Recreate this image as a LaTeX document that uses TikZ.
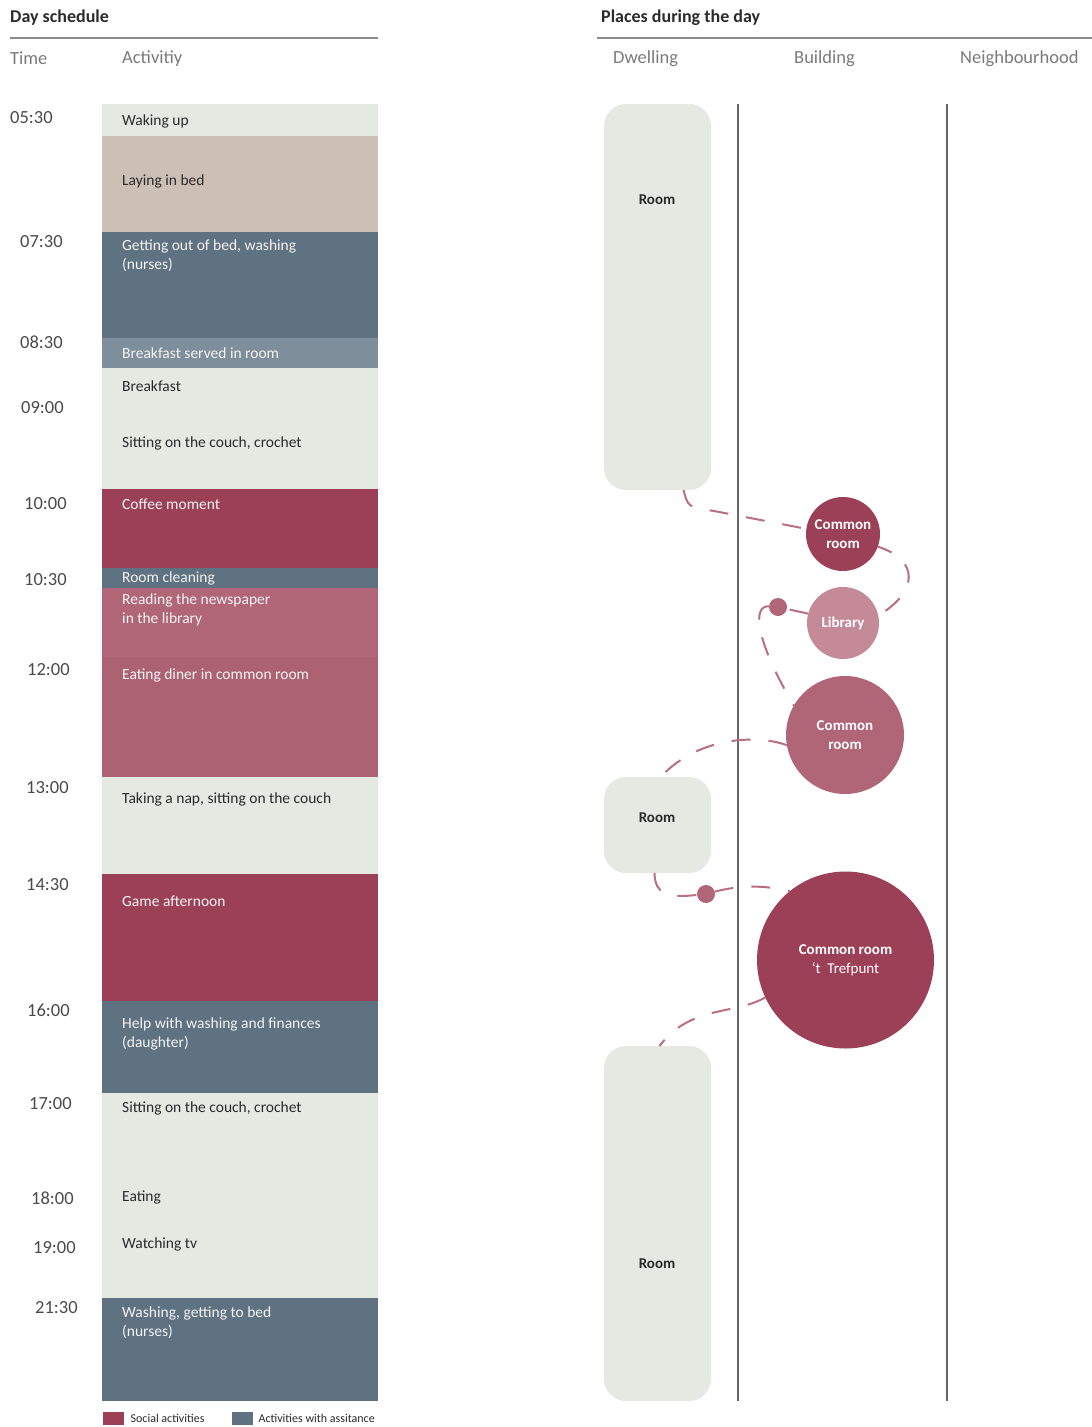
\documentclass[tikz,border=0pt]{standalone}
\usepackage{fontspec}
\setmainfont{Carlito}
\usetikzlibrary{positioning}
\definecolor{pale}{HTML}{E6E8E2}
\definecolor{sand}{HTML}{CBBFB6}
\definecolor{slate}{HTML}{5F7282}
\definecolor{mist}{HTML}{7F8E9B}
\definecolor{crimson}{HTML}{9C4057}
\definecolor{rose}{HTML}{B06677}
\definecolor{dusk}{HTML}{AD6273}
\definecolor{blush}{HTML}{C48A97}
\definecolor{routecol}{HTML}{B86F80}
\definecolor{ink}{HTML}{2B2B2B}
\definecolor{light}{HTML}{F4F4F4}
\definecolor{rulegray}{HTML}{8C8C8C}
\definecolor{colgray}{HTML}{7A7A7A}
\definecolor{hourgray}{HTML}{4A4A4A}
\definecolor{zonegray}{HTML}{666666}
\begin{document}
\begin{tikzpicture}[x=1pt,y=-1pt,
    act/.style={anchor=west,inner sep=0pt,yshift=-1.5pt,align=left,font=\fontsize{15.5}{19}\selectfont},
    hour/.style={anchor=west,inner sep=0pt,yshift=-1.5pt,text=hourgray,font=\fontsize{18.5}{22}\selectfont},
    colhead/.style={anchor=west,inner sep=0pt,yshift=-1.5pt,text=colgray,font=\fontsize{18.5}{22}\selectfont},
    title/.style={anchor=west,inner sep=0pt,yshift=-2pt,text=ink,font=\bfseries\fontsize{18}{22}\selectfont},
    roombox/.style={fill=pale,rounded corners=22pt,minimum width=107pt,inner sep=0pt,outer sep=0pt,anchor=north},
    roomname/.style={text=ink,yshift=-1pt,font=\bfseries\fontsize{15}{18}\selectfont},
    place/.style={circle,inner sep=0pt,outer sep=0pt,text=white,align=center,font=\bfseries\fontsize{15}{19}\selectfont},
    waypoint/.style={circle,fill=rose,minimum size=18pt,inner sep=0pt,outer sep=0pt},
    route/.style={draw=routecol,line width=2pt,dash pattern=on 19pt off 18pt},
    key/.style={minimum width=21pt,minimum height=13pt,inner sep=0pt,anchor=west},
    keytext/.style={inner sep=0pt,anchor=west,text=ink,font=\fontsize{12}{14}\selectfont}]

    \useasboundingbox (0,0) rectangle (1092,1427);

    % headings
    \node[title] (daytitle) at (10,16) {Day schedule};
    \node[title] (placetitle) at (601,16) {Places during the day};
    \draw[rulegray,line width=2pt] (10,38) -- (378,38);
    \draw[rulegray,line width=2pt] (597,38) -- (1092,38);
    \node[colhead] (timehead) at (10,57) {Time};
    \node[colhead] (acthead) at (122,57) {Activitiy};
    \node[colhead] (dwellhead) at (613,57) {Dwelling};
    \node[colhead] (buildhead) at (794,57) {Building};
    \node[colhead] (neighhead) at (960,57) {Neighbourhood};

    % schedule blocks
    \foreach \ytop/\ybot/\col in {104/136/pale, 136/232/sand, 232/338/slate,
        338/368/mist, 368/489/pale, 489/568/crimson, 568/588/slate,
        588/657/rose, 657/777/dusk, 777/874/pale, 874/1001/crimson,
        1001/1093/slate, 1093/1298/pale, 1298/1401/slate}
        \fill[\col] (102,\ytop) rectangle (378,\ybot);

    % activities
    \foreach \n/\y/\col/\txt in {wake/120/ink/{Waking up},
        bed/180/ink/{Laying in bed},
        getup/254.5/light/{Getting out of bed, washing\\(nurses)},
        served/352/light/{Breakfast served in room},
        breakfast/385/ink/{Breakfast},
        couch/442/ink/{Sitting on the couch, crochet},
        coffee/503/light/{Coffee moment},
        cleaning/577/light/{Room cleaning},
        paper/608/light/{Reading the newspaper\\in the library},
        diner/674/light/{Eating diner in common room},
        nap/798/ink/{Taking a nap, sitting on the couch},
        game/900/light/{Game afternoon},
        finance/1032.5/light/{Help with washing and finances\\(daughter)},
        crochet/1107/ink/{Sitting on the couch, crochet},
        eating/1196/ink/{Eating},
        tv/1243/ink/{Watching tv},
        tobed/1321.5/light/{Washing, getting to bed\\(nurses)}}
        \node[act,text=\col] (\n) at (122,\y) {\txt};

    % hours
    \foreach \x/\y/\t [count=\i] in {10/116/05:30, 20/240/07:30, 20/341/08:30,
        21/406/09:00, 24/502/10:00, 24/578/10:30, 27/668/12:00, 26/786/13:00,
        26/883/14:30, 27/1009/16:00, 29/1102/17:00, 31/1197/18:00,
        33/1246/19:00, 35/1306/21:30}
        \node[hour] (hour\i) at (\x,\y) {\t};

    % zones
    \draw[zonegray,line width=1.2pt] (738,104) -- (738,1401);
    \draw[zonegray,line width=1.2pt] (947,104) -- (947,1401);

    % rooms
    \node[roombox,minimum height=386pt] (room1) at (657.5,104) {};
    \node[roomname] (room1name) at (657,199) {Room};
    \node[roombox,minimum height=96pt] (room2) at (657.5,777) {};
    \node[roomname] (room2name) at (657,817) {Room};
    \node[roombox,minimum height=355pt] (room3) at (657.5,1046) {};
    \node[roomname] (room3name) at (657,1263) {Room};

    % places
    \node[place,fill=crimson,minimum size=74pt] (common1) at (843,534) {Common\\room};
    \node[place,fill=blush,minimum size=72pt] (library) at (843,623) {Library};
    \node[place,fill=rose,minimum size=118pt] (common2) at (845,735) {Common\\room};
    \node[place,fill=crimson,minimum size=177pt] (trefpunt) at (845.5,960) {Common room\\\mdseries ‘t\ \ Trefpunt};
    \node[waypoint] (stop1) at (778,607) {};
    \node[waypoint] (stop2) at (706,894) {};

    % routes
    \draw[route] ([xshift=26pt]room1.south) .. controls (688,507) .. (714,511) -- (common1.172);
    \draw[route,dash phase=4pt] (common1.-20) .. controls (920,560) and (918,592) .. (library.12);
    \draw[route] (library.165) -- (stop1);
    \draw[route] (stop1) .. controls (752,605) and (755,640) .. (common2.150);
    \draw[route] (common2.190) .. controls (760,735) and (700,735) .. ([xshift=3pt]room2.north);
    \draw[route] ([xshift=-3pt]room2.south) .. controls (655,895) and (668,898) .. (stop2);
    \draw[route] (stop2) .. controls (740,885) and (765,885) .. (trefpunt.129);
    \draw[route] (trefpunt.205) .. controls (735,1015) and (690,1005) .. ([xshift=2pt]room3.north);

    % legend
    \node[key,fill=crimson] (keysocial) at (103,1418.5) {};
    \node[keytext,right=6pt of keysocial] (keysocialtext) {Social activities};
    \node[key,fill=slate] (keyhelp) at (232,1418.5) {};
    \node[keytext,right=5pt of keyhelp] (keyhelptext) {Activities with assitance};
\end{tikzpicture}
\end{document}
